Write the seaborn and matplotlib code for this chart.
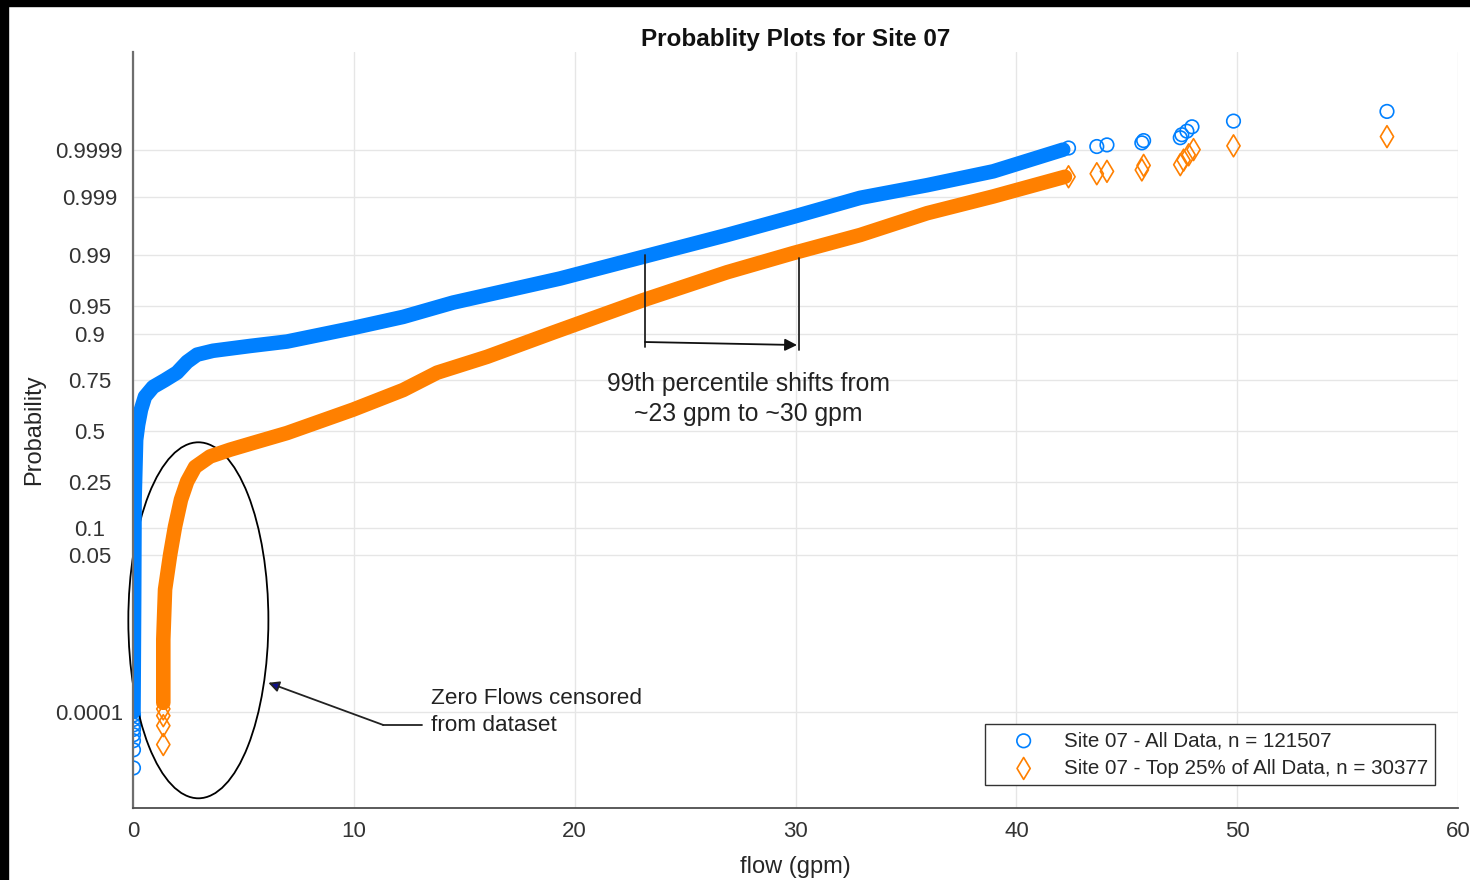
from statistics import NormalDist
import numpy as np
import matplotlib
matplotlib.use('Agg')
import matplotlib.pyplot as plt
from matplotlib.patches import Ellipse, Rectangle
import seaborn as sns

# dense part of each curve, read along the middle of the marker band
all_flow = [0.02, 0.05, 0.07, 0.14, 0.23, 0.36, 0.54, 0.91, 1.45, 1.99, 2.45,
            2.90, 3.62, 5.30, 6.97, 9.96, 12.23, 14.49, 19.34, 23.10, 26.90,
            29.89, 32.93, 35.96, 38.95, 42.12]
all_prob = [0.0001, 0.0125, 0.181, 0.452, 0.532, 0.610, 0.674, 0.719, 0.749,
            0.779, 0.819, 0.843, 0.855, 0.869, 0.881, 0.913, 0.934, 0.955,
            0.978, 0.9893, 0.9952, 0.99767, 0.99897, 0.99942, 0.9997, 0.9999]

top_flow = [1.37, 1.37, 1.45, 1.68, 1.90, 2.17, 2.45, 2.81, 3.49, 4.39, 5.43,
            6.97, 9.96, 12.23, 13.77, 16.03, 19.02, 23.10, 26.90, 29.89, 32.93,
            35.96, 38.95, 42.20]
top_prob = [0.00016, 0.0029, 0.0179, 0.0505, 0.102, 0.181, 0.251, 0.316, 0.367,
            0.401, 0.436, 0.488, 0.610, 0.705, 0.779, 0.836, 0.903, 0.958,
            0.982, 0.9906, 0.9952, 0.9980, 0.99903, 0.99961]

# single markers that stand apart at both tails
all_pts_flow = [0.02] * 8 + [42.36, 43.64, 44.10, 45.68, 45.76, 47.42, 47.49,
                             47.72, 47.95, 49.83, 56.78]
all_pts_prob = [4.1e-6, 1.22e-5, 2.07e-5, 2.9e-5, 3.9e-5, 5.0e-5, 6.7e-5, 8.5e-5,
                0.999908, 0.999915, 0.999922, 0.999930, 0.999938, 0.999947,
                0.999955, 0.999963, 0.999971, 0.999979, 0.999988]

top_pts_flow = [1.37] * 4 + [42.36, 43.64, 44.10, 45.68, 45.76, 47.42, 47.57,
                             47.80, 48.02, 49.83, 56.78]
top_pts_prob = [1.66e-5, 4.8e-5, 8.2e-5, 1.17e-4,
                0.99961, 0.999663, 0.9997, 0.99972, 0.999776, 0.999784,
                0.999828, 0.999869, 0.9999, 0.999918, 0.99995]

prob_ticks = [0.0001, 0.05, 0.1, 0.25, 0.5, 0.75, 0.9, 0.95, 0.99, 0.999, 0.9999]
prob_labels = ['0.0001', '0.05', '0.1', '0.25', '0.5', '0.75', '0.9', '0.95',
               '0.99', '0.999', '0.9999']
flow_ticks = [0, 10, 20, 30, 40, 50, 60]

label_all = 'Site 07 - All Data, n = 121507'
label_top = 'Site 07 - Top 25% of All Data, n = 30377'

BLUE = '#0080ff'
ORANGE = '#ff8000'

# normal probability scale
_nd = NormalDist()
_ppf = np.vectorize(_nd.inv_cdf, otypes=[float])
_cdf = np.vectorize(_nd.cdf, otypes=[float])


def prob_to_z(p):
    p = np.clip(np.asarray(p, dtype=float), 1e-12, 1 - 1e-12)
    return _ppf(p)


def z_to_prob(z):
    return _cdf(np.asarray(z, dtype=float))


sns.set_style('white')
plt.rcParams['font.family'] = ['Liberation Sans', 'DejaVu Sans']

fig = plt.figure(figsize=(14.7, 8.8), dpi=100)
ax = fig.add_axes([0.0905, 0.0818, 0.9014, 0.8591])

sns.lineplot(x=all_flow, y=all_prob, sort=False, estimator=None, color=BLUE,
             linewidth=10.5, solid_capstyle='round', solid_joinstyle='round', ax=ax)
sns.lineplot(x=top_flow, y=top_prob, sort=False, estimator=None, color=ORANGE,
             linewidth=10.5, solid_capstyle='round', solid_joinstyle='round', ax=ax)
sns.scatterplot(x=all_pts_flow, y=all_pts_prob, marker='o', s=95, color=BLUE,
                facecolor='none', edgecolor=BLUE, linewidth=1.2, label=label_all, ax=ax)
sns.scatterplot(x=top_pts_flow, y=top_pts_prob, marker='d', s=125, color=ORANGE,
                facecolor='none', edgecolor=ORANGE, linewidth=1.2, label=label_top, ax=ax)

ax.set_yscale('function', functions=(prob_to_z, z_to_prob))
ax.set_ylim(_nd.cdf(-4.99), _nd.cdf(5.01))
ax.set_xlim(0, 60)
ax.set_yticks(prob_ticks)
ax.set_yticklabels(prob_labels)
ax.yaxis.set_minor_locator(matplotlib.ticker.NullLocator())
ax.set_xticks(flow_ticks)

ax.grid(True, color='#e6e6e6', linewidth=1)
ax.set_axisbelow(True)
for side in ['top', 'right']:
    ax.spines[side].set_visible(False)
ax.spines['left'].set_color('#6e6e6e')
ax.spines['left'].set_linewidth(1.6)
ax.spines['bottom'].set_color('#4d4d4d')
ax.spines['bottom'].set_linewidth(1.3)

ax.tick_params(axis='both', direction='in', length=8.6, width=1.1,
               color='#404040', labelcolor='#333333', labelsize=16)
ax.tick_params(axis='x', pad=9)
ax.tick_params(axis='y', pad=31.5)
for lab in ax.get_yticklabels():
    lab.set_horizontalalignment('center')

ax.set_title('Probablity Plots for Site 07', fontsize=17.5, fontweight='bold',
             color='#111111', pad=4)
ax.set_xlabel('flow (gpm)', fontsize=17, color='#262626')
ax.set_ylabel('Probability', fontsize=17, color='#262626')
ax.xaxis.set_label_coords(0.5, -0.063)
ax.yaxis.set_label_coords(-0.066, 0.5)

leg = ax.legend(loc='lower right', bbox_to_anchor=(0.9826, 0.0304), fontsize=14.8,
                frameon=True, fancybox=False, framealpha=1, edgecolor='#333333',
                borderpad=0.35, handlelength=3.1, handletextpad=0.4,
                labelspacing=0.42, borderaxespad=0, scatterpoints=1)
leg.get_frame().set_linewidth(1.0)
for t in leg.get_texts():
    t.set_color('#262626')

# annotations: ellipse around the censored low end
ax.add_patch(Ellipse((0.0493, 0.2483), 0.1057, 0.4709, transform=ax.transAxes,
                     fill=False, edgecolor='black', linewidth=1.3, clip_on=False))
ax.plot([0.2179, 0.1889], [0.1098, 0.1098], transform=ax.transAxes,
        color='#222222', linewidth=1.3)
ax.annotate('', xy=(0.1021, 0.1657), xytext=(0.1889, 0.1098),
            xycoords='axes fraction', textcoords='axes fraction',
            arrowprops=dict(arrowstyle='-|>', color='#222222', fc='#10108a',
                            lw=1.3, mutation_scale=16, shrinkA=0, shrinkB=0))
ax.text(0.2245, 0.127, 'Zero Flows censored\nfrom dataset', transform=ax.transAxes,
        fontsize=16.2, color='#222222', ha='left', va='center', linespacing=1.32)

# bracket showing the shift of the 99th percentile
ax.plot([0.3864, 0.3864], [0.7315, 0.6098], transform=ax.transAxes,
        color='#222222', linewidth=1.3)
ax.plot([0.5026, 0.5026], [0.7275, 0.6058], transform=ax.transAxes,
        color='#222222', linewidth=1.3)
ax.annotate('', xy=(0.5011, 0.6124), xytext=(0.3864, 0.6164),
            xycoords='axes fraction', textcoords='axes fraction',
            arrowprops=dict(arrowstyle='-|>', color='#111111', lw=1.3,
                            mutation_scale=18, shrinkA=0, shrinkB=0))
ax.text(0.4642, 0.541, '99th percentile shifts from\n~23 gpm to ~30 gpm',
        transform=ax.transAxes, fontsize=17.8, color='#222222', ha='center',
        va='center', linespacing=1.3)

# black strips on the top and left edge of the screenshot
fig.add_artist(Rectangle((0, 1 - 6 / 880), 1, 6 / 880, transform=fig.transFigure,
                         color='black', zorder=10))
fig.add_artist(Rectangle((0, 0), 8 / 1470, 1, transform=fig.transFigure,
                         color='black', zorder=10))

fig.savefig('out.png', dpi=100)
plt.close(fig)
